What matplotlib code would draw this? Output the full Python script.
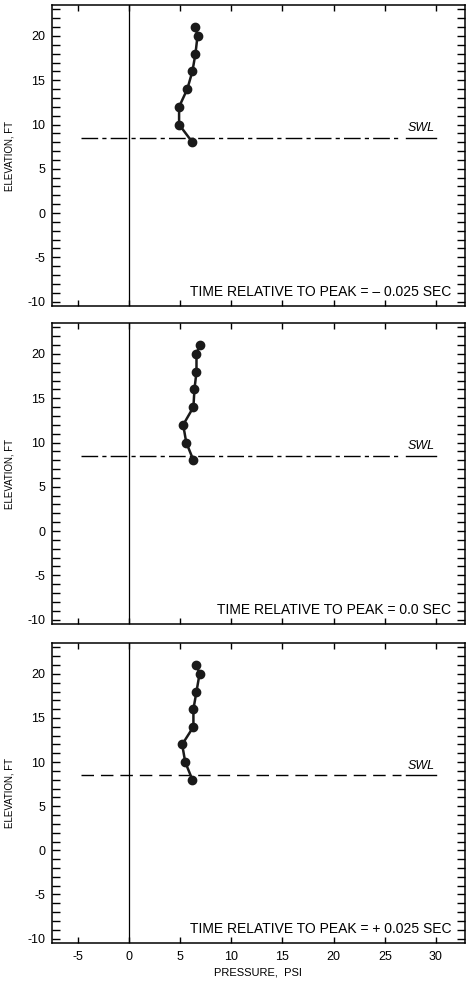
import numpy as np
import matplotlib
matplotlib.use('Agg')
import matplotlib.pyplot as plt
from matplotlib.ticker import MultipleLocator

plt.rcParams['font.family'] = ['Liberation Sans', 'DejaVu Sans']
plt.rcParams['axes.unicode_minus'] = False


# Data

elevation = [21, 20, 18, 16, 14, 12, 10, 8]          # ft
p_before = [6.5, 6.7, 6.5, 6.2, 5.7, 4.9, 4.9, 6.2]  # psi, t = -0.025 s
p_peak = [6.9, 6.6, 6.6, 6.4, 6.3, 5.3, 5.6, 6.3]    # psi, t = 0.0 s
p_after = [6.6, 6.9, 6.6, 6.3, 6.3, 5.2, 5.5, 6.2]   # psi, t = +0.025 s

swl = 8.5
swl_start, swl_end = -4.7, 26.6
swl_label_x = [27.1, 30.0]

x_ticks = [-5, 0, 5, 10, 15, 20, 25, 30]
y_ticks = [-10, -5, 0, 5, 10, 15, 20]

titles = ['TIME RELATIVE TO PEAK = \u2013 0.025 SEC',
          'TIME RELATIVE TO PEAK = 0.0 SEC',
          'TIME RELATIVE TO PEAK = + 0.025 SEC']



def draw_panel(ax, pressure, title, dashes, show_x):

    # One elevation / pressure profile

    ax.axvline(0, color='black', linewidth=0.9)
    ax.plot([swl_start, swl_end], [swl, swl], color='black', linewidth=1.0, linestyle=dashes)
    ax.plot(swl_label_x, [swl, swl], color='black', linewidth=1.0)
    ax.text(np.mean(swl_label_x), swl + 0.4, 'SWL', fontsize=9, style='italic',
            ha='center', va='bottom')

    ax.plot(pressure, elevation, 'o-', color='#1a1a1a', linewidth=1.8, markersize=6)

    ax.text(31.5, -8.9, title, fontsize=10, ha='right', va='center')

    ax.set_xlim(-7.5, 32.8)
    ax.set_ylim(-10.5, 23.5)
    ax.set_xticks(x_ticks)
    ax.set_yticks(y_ticks)
    ax.yaxis.set_minor_locator(MultipleLocator(1))
    ax.tick_params(axis='y', which='both', direction='in', length=5.5, width=1.0,
                   left=True, right=True, labelsize=9, pad=5)
    ax.tick_params(axis='x', which='both', direction='in', length=4.5, width=1.0,
                   top=True, bottom=True, labelsize=9, pad=6)
    if not show_x:
        ax.tick_params(axis='x', labelbottom=False)
    else:
        ax.set_xlabel('PRESSURE,  PSI', fontsize=8, labelpad=3)
    ax.set_ylabel('ELEVATION, FT', fontsize=7, labelpad=9)
    for s in ax.spines.values():
        s.set_linewidth(1.1)



def main():

    fig = plt.figure(figsize=(4.66, 9.83), dpi=100)
    boxes = [(0.6887, 0.9949), (0.3652, 0.6714), (0.0407, 0.3459)]
    series = [p_before, p_peak, p_after]
    dash_styles = [(0, (12, 3, 3, 3)), (0, (12, 3, 3, 3)), (0, (9, 5))]

    for i, (bottom, top) in enumerate(boxes):
        ax = fig.add_axes([0.112, bottom, 0.885, top - bottom])
        draw_panel(ax, series[i], titles[i], dash_styles[i], i == 2)

    fig.savefig('out.png', dpi=100)



if __name__ == "__main__":
    main()
